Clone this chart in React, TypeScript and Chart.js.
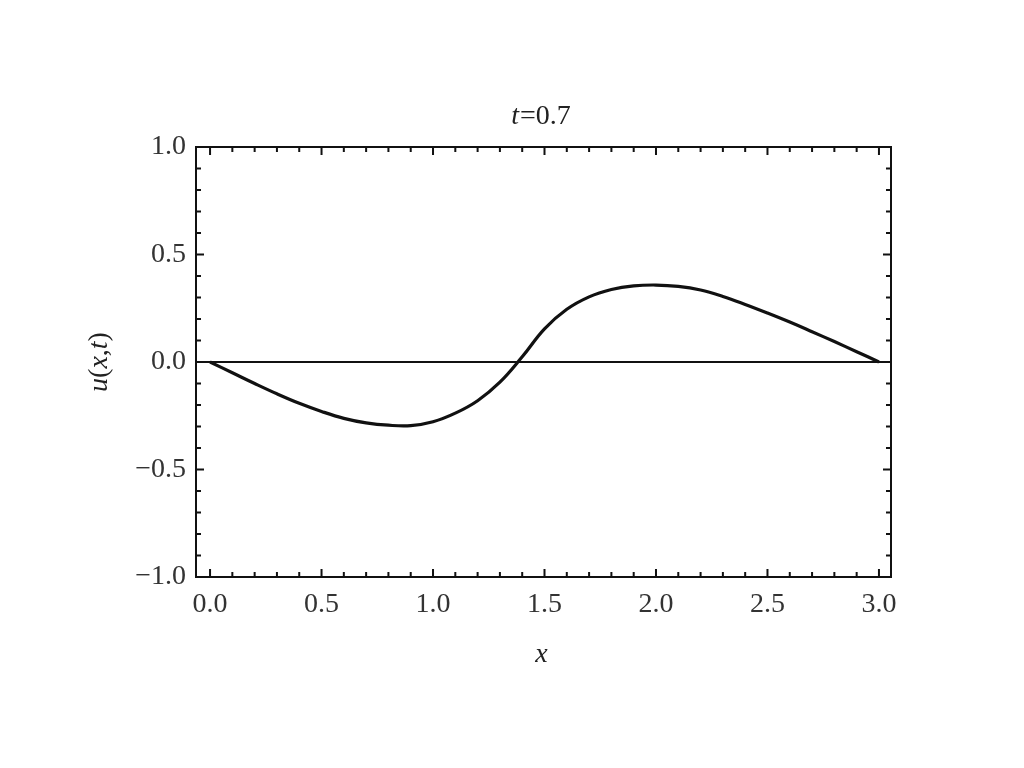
import React, { useEffect, useRef } from "react";
import { Chart, registerables } from "chart.js";

Chart.register(...registerables);

const xValues = [0, 0.1, 0.2, 0.3, 0.4, 0.5, 0.6, 0.7, 0.8, 0.9, 1.0, 1.1, 1.2, 1.3, 1.4, 1.5, 1.6, 1.7, 1.8, 1.9, 2.0, 2.1, 2.2, 2.3, 2.4, 2.5, 2.6, 2.7, 2.8, 2.9, 3.0];
const uValues = [0, -0.05, -0.1, -0.148, -0.192, -0.23, -0.262, -0.283, -0.294, -0.296, -0.278, -0.238, -0.18, -0.094, 0.024, 0.154, 0.245, 0.303, 0.337, 0.354, 0.358, 0.352, 0.335, 0.305, 0.268, 0.228, 0.186, 0.141, 0.095, 0.048, 0];

const xTickValues = [0, 0.5, 1.0, 1.5, 2.0, 2.5, 3.0];
const yTickValues = [-1.0, -0.5, 0, 0.5, 1.0];
const xRange = [-0.063, 3.054];
const yRange = [-1, 1];
const titleText = { italic: "t", normal: "=0.7" };
const xAxisTitle = "x";
const yAxisTitleParts: [string, boolean][] = [["u", true], ["(", false], ["x", true], [",", false], ["t", true], [")", false]];

const FONT = "'Liberation Serif', 'Times New Roman', serif";

function fmt(v: number) {
  const s = Math.abs(v).toFixed(1);
  return v < 0 ? "\u2212" + s : s;
}

const decorPlugin = {
  id: "decor",
  beforeDatasetsDraw(chart: any) {
    const { ctx, chartArea: a, scales } = chart;
    const y0 = scales.y.getPixelForValue(0);
    ctx.save();
    ctx.strokeStyle = "#111";
    ctx.lineWidth = 1.8;
    ctx.beginPath();
    ctx.moveTo(a.left, y0);
    ctx.lineTo(a.right, y0);
    ctx.stroke();
    ctx.restore();
  },
  afterDraw(chart: any) {
    const { ctx, chartArea: a, scales } = chart;
    const xs = scales.x;
    const ys = scales.y;
    ctx.save();
    ctx.strokeStyle = "#111";
    ctx.lineWidth = 2;
    ctx.strokeRect(a.left, a.top, a.right - a.left, a.bottom - a.top);
    ctx.lineWidth = 2;
    ctx.beginPath();
    for (let i = 0; i <= 30; i++) {
      const v = i / 10;
      const major = i % 5 === 0;
      const len = major ? 8 : 5;
      const px = xs.getPixelForValue(v);
      ctx.moveTo(px, a.bottom);
      ctx.lineTo(px, a.bottom - len);
      ctx.moveTo(px, a.top);
      ctx.lineTo(px, a.top + len);
    }
    for (let i = -10; i <= 10; i++) {
      const v = i / 10;
      const major = i % 5 === 0;
      const len = major ? 8 : 5;
      const py = ys.getPixelForValue(v);
      ctx.moveTo(a.left, py);
      ctx.lineTo(a.left + len, py);
      ctx.moveTo(a.right, py);
      ctx.lineTo(a.right - len, py);
    }
    ctx.stroke();

    ctx.fillStyle = "#222";
    ctx.textBaseline = "middle";
    ctx.textAlign = "left";
    const cx = (a.left + a.right) / 2;
    ctx.font = "italic 28px " + FONT;
    const w1 = ctx.measureText(titleText.italic).width;
    ctx.font = "28px " + FONT;
    const w2 = ctx.measureText(titleText.normal).width;
    const x = cx - (w1 + w2) / 2 - 3;
    ctx.font = "italic 28px " + FONT;
    ctx.fillText(titleText.italic, x, 117);
    ctx.font = "28px " + FONT;
    ctx.fillText(titleText.normal, x + w1 + 1, 117);

    ctx.textAlign = "center";
    ctx.font = "italic 28px " + FONT;
    ctx.fillText(xAxisTitle, cx - 2, 655);

    ctx.translate(100, (a.top + a.bottom) / 2);
    ctx.rotate(-Math.PI / 2);
    let total = 0;
    const widths: number[] = [];
    for (const [s, it] of yAxisTitleParts) {
      ctx.font = (it ? "italic " : "") + "28px " + FONT;
      const w = ctx.measureText(s).width;
      widths.push(w);
      total += w;
    }
    ctx.textAlign = "left";
    let px = -total / 2;
    yAxisTitleParts.forEach(([s, it], i) => {
      ctx.font = (it ? "italic " : "") + "28px " + FONT;
      ctx.fillText(s, px, 0);
      px += widths[i];
    });
    ctx.restore();
  },
};

export default function App() {
  const ref = useRef<HTMLCanvasElement>(null);
  useEffect(() => {
    if (!ref.current) return;
    const chart = new Chart(ref.current, {
      type: "line",
      data: {
        datasets: [
          {
            data: xValues.map((x, i) => ({ x, y: uValues[i] })),
            borderColor: "#111",
            borderWidth: 3.2,
            pointRadius: 0,
            tension: 0.4,
            fill: false,
          },
        ],
      },
      options: {
        responsive: false,
        animation: false,
        layout: { padding: { top: 147, right: 133, left: 0, bottom: 0 } },
        plugins: { legend: { display: false }, tooltip: { enabled: false }, title: { display: false } },
        scales: {
          x: {
            type: "linear",
            min: xRange[0],
            max: xRange[1],
            border: { display: false },
            grid: { display: false, drawTicks: false },
            afterBuildTicks: (s: any) => {
              s.ticks = xTickValues.map((v) => ({ value: v }));
            },
            afterFit: (s: any) => {
              s.height = 191;
            },
            ticks: {
              autoSkip: false,
              maxRotation: 0,
              padding: 11,
              color: "#333",
              font: { family: FONT, size: 28 },
              callback: (v: any) => fmt(Number(v)),
            },
          },
          y: {
            type: "linear",
            min: yRange[0],
            max: yRange[1],
            border: { display: false },
            grid: { display: false, drawTicks: false },
            afterBuildTicks: (s: any) => {
              s.ticks = yTickValues.map((v) => ({ value: v }));
            },
            afterFit: (s: any) => {
              s.width = 196;
            },
            ticks: {
              autoSkip: false,
              padding: 10,
              color: "#333",
              font: { family: FONT, size: 28 },
              callback: (v: any) => fmt(Number(v)),
            },
          },
        },
      },
      plugins: [decorPlugin],
    });
    return () => chart.destroy();
  }, []);
  return (
    <div style={{ position: "absolute", left: 0, top: 0, width: 1024, height: 768, background: "#fff" }}>
      <canvas ref={ref} width={1024} height={768} style={{ display: "block" }} />
    </div>
  );
}
